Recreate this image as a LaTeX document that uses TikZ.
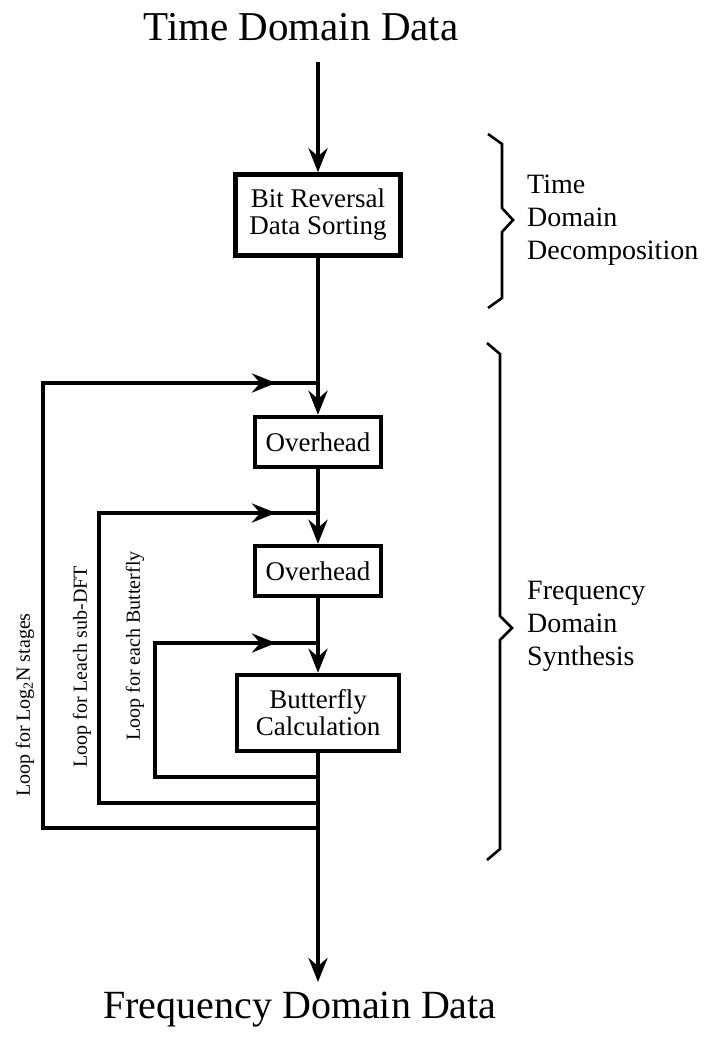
\documentclass[tikz,border=0pt]{standalone}
\usepackage{fontspec}
\setmainfont{Liberation Serif}
\usetikzlibrary{arrows.meta}
\begin{document}
\begin{tikzpicture}[x=1pt,y=-1pt,
  flow/.style={line width=4.5pt},
  arr/.style={flow,-{Stealth[length=24pt,width=19pt,inset=8pt]}},
  box/.style={draw,line width=4.5pt,fill=white,inner sep=0pt,align=center,font=\fontsize{27}{29}\selectfont},
  brace/.style={line width=2.6pt,line join=miter},
  side/.style={anchor=west,align=left,inner sep=0pt,font=\fontsize{28}{33}\selectfont},
  title/.style={inner sep=0pt,font=\fontsize{41}{44}\selectfont},
  looplab/.style={rotate=90,inner sep=0pt,font=\fontsize{20}{22}\selectfont}]
\useasboundingbox (0,0) rectangle (715,1039);
% titles
\node[title] (tin) at (301,27) {Time Domain Data};
\node[title,font=\fontsize{40}{44}\selectfont] (tout) at (300,1010) {Frequency Domain Data};
% boxes
\node[box,minimum width=165pt,minimum height=81pt] (b1) at (318,215) {Bit Reversal\\[-2pt]Data Sorting};
\node[box,minimum width=126pt,minimum height=50pt] (o1) at (318,442) {Overhead};
\node[box,minimum width=126pt,minimum height=50pt] (o2) at (318,571) {Overhead};
\node[box,minimum width=162pt,minimum height=76pt] (bf) at (318,713) {Butterfly\\[-2pt]Calculation};
% coordinates
\coordinate (top) at (318,62);
\coordinate (j1) at (318,383);
\coordinate (j2) at (318,513);
\coordinate (j3) at (318,643);
\coordinate (r3) at (318,777);
\coordinate (r2) at (318,803);
\coordinate (r1) at (318,828);
\coordinate (bot) at (318,982);
\coordinate (a1) at (43,828);
\coordinate (b1l) at (43,383);
\coordinate (m1) at (276,383);
\coordinate (a2) at (99,803);
\coordinate (b2l) at (99,513);
\coordinate (m2) at (276,513);
\coordinate (a3) at (155,777);
\coordinate (b3l) at (155,643);
\coordinate (m3) at (276,643);
% main flow
\draw[arr] (top) -- (b1.north);
\draw[flow] (b1.south) -- (j1);
\draw[arr] (j1) -- (o1.north);
\draw[flow] (o1.south) -- (j2);
\draw[arr] (j2) -- (o2.north);
\draw[flow] (o2.south) -- (j3);
\draw[arr] (j3) -- (bf.north);
\draw[arr] (bf.south) -- (bot);
% loops
\draw[flow,line join=miter] (r1) -- (a1) -- (b1l) -- (j1);
\draw[arr] (b1l) -- (m1);
\draw[flow,line join=miter] (r2) -- (a2) -- (b2l) -- (j2);
\draw[arr] (b2l) -- (m2);
\draw[flow,line join=miter] (r3) -- (a3) -- (b3l) -- (j3);
\draw[arr] (b3l) -- (m3);
% loop labels
\node[looplab] (l1) at (25,705) {Loop for Log\textsubscript{2}N stages};
\node[looplab] (l2) at (82,667) {Loop for Leach sub-DFT};
\node[looplab] (l3) at (135,646) {Loop for each Butterfly};
% braces
\draw[brace] (488,134) -- (502,144) -- (502,208) -- (513,220) -- (502,232) -- (502,298) -- (488,308);
\draw[brace] (487,343) -- (500,354) -- (500,616) -- (512,628) -- (500,640) -- (500,849) -- (487,860);
\node[side] (s1) at (527,220) {Time\\Domain\\Decomposition};
\node[side] (s2) at (527,626) {Frequency\\Domain\\Synthesis};
\end{tikzpicture}
\end{document}
